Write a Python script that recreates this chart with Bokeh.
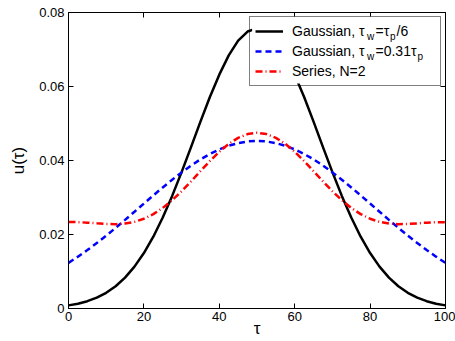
from bokeh.plotting import figure
from bokeh.models import (Range1d, FixedTicker, LinearAxis, Legend, LegendItem, Label,
                          BoxAnnotation)
from bokeh.embed import file_html
from bokeh.resources import INLINE

# ---- data ----
tau = [0, 2.5, 5, 7.5, 10, 12.5, 15, 17.5, 20, 22.5, 25, 27.5, 30, 32.5, 35, 37.5,
       40, 42.5, 45, 47.5, 50, 52.5, 55, 57.5, 60, 62.5, 65, 67.5, 70, 72.5, 75,
       77.5, 80, 82.5, 85, 87.5, 90, 92.5, 95, 97.5, 100]

gauss_narrow = [0.00084, 0.0013, 0.00198, 0.00293, 0.00425, 0.00602, 0.00835, 0.01131,
                0.01498, 0.01941, 0.02458, 0.03043, 0.03685, 0.04363, 0.0505, 0.05715,
                0.0632, 0.06841, 0.0724, 0.07485, 0.0757, 0.07485, 0.0724, 0.06841,
                0.0632, 0.05715, 0.0505, 0.04363, 0.03685, 0.03043, 0.02458, 0.01941,
                0.01498, 0.01131, 0.00835, 0.00602, 0.00425, 0.00293, 0.00198, 0.0013,
                0.00084]

gauss_wide = [0.01233, 0.01401, 0.01579, 0.0177, 0.0197, 0.02179, 0.02395, 0.02615,
              0.02836, 0.03056, 0.03272, 0.03481, 0.03679, 0.03863, 0.0403, 0.04176,
              0.043, 0.04399, 0.0447, 0.04515, 0.0453, 0.04515, 0.0447, 0.04399,
              0.043, 0.04176, 0.0403, 0.03863, 0.03679, 0.03481, 0.03272, 0.03056,
              0.02836, 0.02615, 0.02395, 0.02179, 0.0197, 0.0177, 0.01579, 0.01401,
              0.01233]

series_n2 = [0.0234, 0.02335, 0.0232, 0.02301, 0.02285, 0.0228, 0.02296, 0.02342,
             0.02426, 0.02551, 0.02719, 0.02927, 0.0317, 0.03436, 0.03712, 0.03984,
             0.04235, 0.04449, 0.04612, 0.04715, 0.0475, 0.04715, 0.04612, 0.04449,
             0.04235, 0.03984, 0.03712, 0.03436, 0.0317, 0.02927, 0.02719, 0.02551,
             0.02426, 0.02342, 0.02296, 0.0228, 0.02285, 0.02301, 0.0232, 0.02335,
             0.0233]

x_ticks = [0, 20, 40, 60, 80, 100]
y_ticks = [0, 0.02, 0.04, 0.06, 0.08]
y_tick_labels = ["0", "0.02", "0.04", "0.06", "0.08"]
legend_main = ["Gaussian, τ", "Gaussian, τ", "Series, N=2"]
x_title = "τ"
y_title = "u(τ)"

FONT = "Liberation Sans"

p = figure(width=455, height=341, x_range=Range1d(0, 100), y_range=Range1d(0, 0.08),
           output_backend="svg", toolbar_location=None,
           min_border_left=68, min_border_right=10, min_border_top=12, min_border_bottom=33)
p.xgrid.visible = False
p.ygrid.visible = False
p.outline_line_color = "black"
p.outline_line_width = 1
p.background_fill_color = "white"
p.border_fill_color = "white"

p.xaxis.ticker = FixedTicker(ticks=x_ticks)
p.yaxis.ticker = FixedTicker(ticks=y_ticks)
p.yaxis.major_label_overrides = {t: s for t, s in zip(y_ticks, y_tick_labels)}
p.xaxis.axis_label = x_title
p.yaxis.axis_label = y_title

for ax in (p.xaxis[0], p.yaxis[0]):
    ax.major_tick_in = 5
    ax.major_tick_out = 0
    ax.minor_tick_line_color = None
    ax.axis_line_color = "black"
    ax.major_tick_line_color = "black"
    ax.major_label_text_font = FONT
    ax.major_label_text_font_size = "13px"
    ax.major_label_text_color = "black"
    ax.axis_label_text_font = FONT
    ax.axis_label_text_font_style = "normal"
    ax.axis_label_text_font_size = "17px"
    ax.axis_label_text_color = "black"

p.xaxis.major_label_standoff = 3
p.xaxis.axis_label_standoff = -5
p.yaxis.major_label_standoff = 4
p.yaxis.axis_label_standoff = 8

top_ax = LinearAxis(ticker=FixedTicker(ticks=x_ticks),
                    major_label_overrides={t: "" for t in x_ticks},
                    major_tick_in=5, major_tick_out=0, minor_tick_line_color=None,
                    major_label_standoff=0, axis_line_color="black")
right_ax = LinearAxis(ticker=FixedTicker(ticks=y_ticks),
                      major_label_overrides={t: "" for t in y_ticks},
                      major_tick_in=5, major_tick_out=0, minor_tick_line_color=None,
                      major_label_standoff=0, axis_line_color="black")
p.add_layout(top_ax, "above")
p.add_layout(right_ax, "right")

r1 = p.line(tau, gauss_narrow, line_color="black", line_width=2.5)
r2 = p.line(tau, gauss_wide, line_color="#0000ff", line_width=2.5, line_dash="6 4")
r3 = p.line(tau, series_n2, line_color="#ff0000", line_width=2.5, line_dash="7 3 1 3")

# white backing of the legend box (the legend itself is transparent so that
# the subscript labels drawn on top of it stay visible)
p.add_layout(BoxAnnotation(left=48.7, right=99.0, top=0.0789, bottom=0.0608,
                           fill_color="white", fill_alpha=1, line_color=None))

legend = Legend(items=[LegendItem(label=legend_main[0], renderers=[r1]),
                       LegendItem(label=legend_main[1], renderers=[r2]),
                       LegendItem(label=legend_main[2], renderers=[r3])],
                location="top_right", margin=4, padding=5, spacing=2,
                label_height=18, glyph_height=18, glyph_width=28, label_standoff=9,
                label_width=143, label_text_font=FONT, label_text_font_size="14px",
                label_text_color="black", border_line_color="black", border_line_width=1,
                background_fill_alpha=0)
p.add_layout(legend)

# subscript pieces of the legend labels: offsets in pixels from the frame's top-right
pieces = [
    ("w", -78.5, -23.5, "10px"),
    ("=τ", -70, -18, "14px"),
    ("p", -55.5, -23.5, "10px"),
    ("/6", -49, -18, "14px"),
    ("w", -78.5, -43.5, "10px"),
    ("=0.31τ", -70, -38, "14px"),
    ("p", -28, -43.5, "10px"),
]
for txt, dx, dy, fs in pieces:
    p.add_layout(Label(x=100, y=0.08, x_offset=dx, y_offset=dy, text=txt,
                       text_font=FONT, text_font_size=fs, text_color="black",
                       text_baseline="middle", text_align="left"))

open("out.html", "w").write(file_html(p, INLINE))
